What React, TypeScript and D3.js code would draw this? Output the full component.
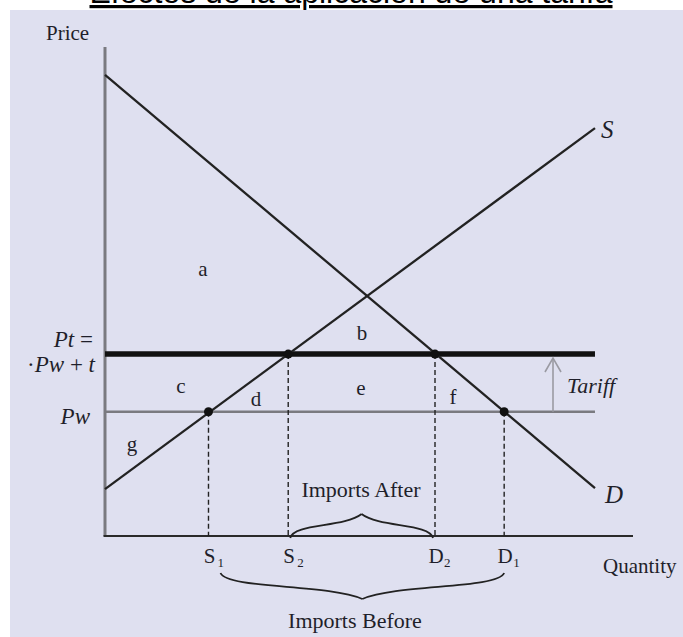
import React from "react";
import * as d3 from "d3";

// ---- data (quantity 0-100, price 0-100) ----
const demandLine = [
  { q: 0, p: 94.3 },
  { q: 92.8, p: 9.8 },
];
const supplyLine = [
  { q: 0, p: 9.6 },
  { q: 92.8, p: 83.4 },
];
const worldPrice = 25.4;
const tariffPrice = 37.2;
const lineEndQ = 92.8;
const qNames = ["S", "S", "D", "D"];
const qSubs = ["1", "2", "2", "1"];
const qValues = [19.6, 34.7, 62.5, 75.6];
const qAtPrice = ["world", "tariff", "tariff", "world"];
const regionLabels = ["a", "b", "c", "d", "e", "f", "g"];

const W = 683;
const H = 637;
const serif = "'Liberation Serif', 'Times New Roman', serif";
const ink = "#1f1f2a";

function brace(x1: number, x2: number, y: number, h: number, dir: number) {
  const mid = (x1 + x2) / 2;
  const tip = y + dir * h;
  const hw = mid - x1;
  const a = y + dir * h * 0.62;
  const b = y + dir * h * 0.42;
  return (
    `M${x1},${y} C${x1 + hw * 0.05},${a} ${mid - hw * 0.25},${b} ${mid},${tip} ` +
    `M${x2},${y} C${x2 - hw * 0.05},${a} ${mid + hw * 0.25},${b} ${mid},${tip}`
  );
}

export default function App() {
  const x = d3.scaleLinear().domain([0, 100]).range([105, 633]);
  const y = d3.scaleLinear().domain([0, 100]).range([536, 47]);
  const line = d3
    .line<{ q: number; p: number }>()
    .x((d) => x(d.q))
    .y((d) => y(d.p));
  const priceOf = (k: string) => (k === "world" ? worldPrice : tariffPrice);

  const regionPos: Record<string, [number, number]> = {
    a: [203, 276],
    b: [362, 340],
    c: [181, 393],
    d: [256, 406],
    e: [361, 395],
    f: [453, 404],
    g: [132, 451],
  };

  const xS1 = x(qValues[0]);
  const xS2 = x(qValues[1]);
  const xD2 = x(qValues[2]);
  const xD1 = x(qValues[3]);

  return (
    <svg
      width={W}
      height={H}
      style={{ position: "absolute", left: 0, top: 0, background: "#fff" }}
    >
      <rect x={10} y={10} width={W - 10} height={H - 10} fill="#dfe0f0" />
      <text
        x={351}
        y={3}
        textAnchor="middle"
        fontFamily="'Liberation Sans', Arial, sans-serif"
        fontSize={32}
        fill="#000"
        style={{ textDecoration: "underline" }}
      >
        Efectos de la aplicación de una tarifa
      </text>

      {/* axes */}
      <line x1={x(0)} y1={y(100)} x2={x(0)} y2={y(0)} stroke="#7a7a80" strokeWidth={3} />
      <line x1={x(0) - 1.5} y1={y(0)} x2={x(100)} y2={y(0)} stroke="#2a2a2a" strokeWidth={2.2} />

      {/* price lines */}
      <line x1={x(0)} y1={y(worldPrice)} x2={x(lineEndQ)} y2={y(worldPrice)} stroke="#7a7a80" strokeWidth={2.5} />
      <line x1={x(0)} y1={y(tariffPrice)} x2={x(lineEndQ)} y2={y(tariffPrice)} stroke="#111" strokeWidth={5.5} />

      {/* supply & demand */}
      <path d={line(demandLine) || ""} stroke="#222" strokeWidth={2.3} fill="none" />
      <path d={line(supplyLine) || ""} stroke="#222" strokeWidth={2.3} fill="none" />

      {/* dashed drop lines and dots */}
      {qValues.map((q, i) => (
        <g key={i}>
          <line
            x1={x(q)}
            x2={x(q)}
            y1={y(priceOf(qAtPrice[i]))}
            y2={y(0)}
            stroke="#222"
            strokeWidth={1.4}
            strokeDasharray="5,3"
          />
          <circle cx={x(q)} cy={y(priceOf(qAtPrice[i]))} r={4.5} fill="#111" />
          <text x={x(q) + 1} y={563} textAnchor="middle" fontFamily={serif} fontSize={21} fill={ink}>
            {qNames[i]}
          </text>
          <text x={x(q) + 9} y={567} fontFamily={serif} fontSize={13} fill={ink}>
            {qSubs[i]}
          </text>
        </g>
      ))}

      {/* tariff arrow */}
      <line x1={553} y1={y(worldPrice)} x2={553} y2={358} stroke="#9a9aa2" strokeWidth={1.6} />
      <polyline points="545,372 553,358 561,372" fill="none" stroke="#9a9aa2" strokeWidth={1.6} />
      <text x={567} y={393} fontFamily={serif} fontStyle="italic" fontSize={22} fill={ink}>
        Tariff
      </text>

      {/* region labels */}
      {regionLabels.map((l) => (
        <text
          key={l}
          x={regionPos[l][0]}
          y={regionPos[l][1]}
          textAnchor="middle"
          fontFamily={serif}
          fontSize={21}
          fill={ink}
        >
          {l}
        </text>
      ))}

      {/* axis titles */}
      <text x={46} y={40} fontFamily={serif} fontSize={21} fill={ink}>
        Price
      </text>
      <text x={603} y={573} fontFamily={serif} fontSize={21} fill={ink}>
        Quantity
      </text>
      <text x={601} y={138} fontFamily={serif} fontStyle="italic" fontSize={25} fill={ink}>
        S
      </text>
      <text x={605} y={503} fontFamily={serif} fontStyle="italic" fontSize={25} fill={ink}>
        D
      </text>

      {/* price labels */}
      <text x={93} y={347} textAnchor="end" fontFamily={serif} fontSize={23} fill={ink}>
        <tspan fontStyle="italic">Pt</tspan> =
      </text>
      <text x={95} y={372} textAnchor="end" fontFamily={serif} fontSize={23} fill={ink}>
        ·<tspan fontStyle="italic">Pw</tspan> + <tspan fontStyle="italic">t</tspan>
      </text>
      <text x={90} y={424} textAnchor="end" fontFamily={serif} fontStyle="italic" fontSize={23} fill={ink}>
        Pw
      </text>

      {/* braces */}
      <path d={brace(xS2 + 2, xD2 - 2, 538, 24, -1)} fill="none" stroke="#222" strokeWidth={1.8} />
      <text x={361} y={497} textAnchor="middle" fontFamily={serif} fontSize={22} fill={ink}>
        Imports After
      </text>
      <path d={brace(xS1 + 12, xD1, 573, 26, 1)} fill="none" stroke="#222" strokeWidth={1.8} />
      <text x={355} y={628} textAnchor="middle" fontFamily={serif} fontSize={22} fill={ink}>
        Imports Before
      </text>
    </svg>
  );
}
